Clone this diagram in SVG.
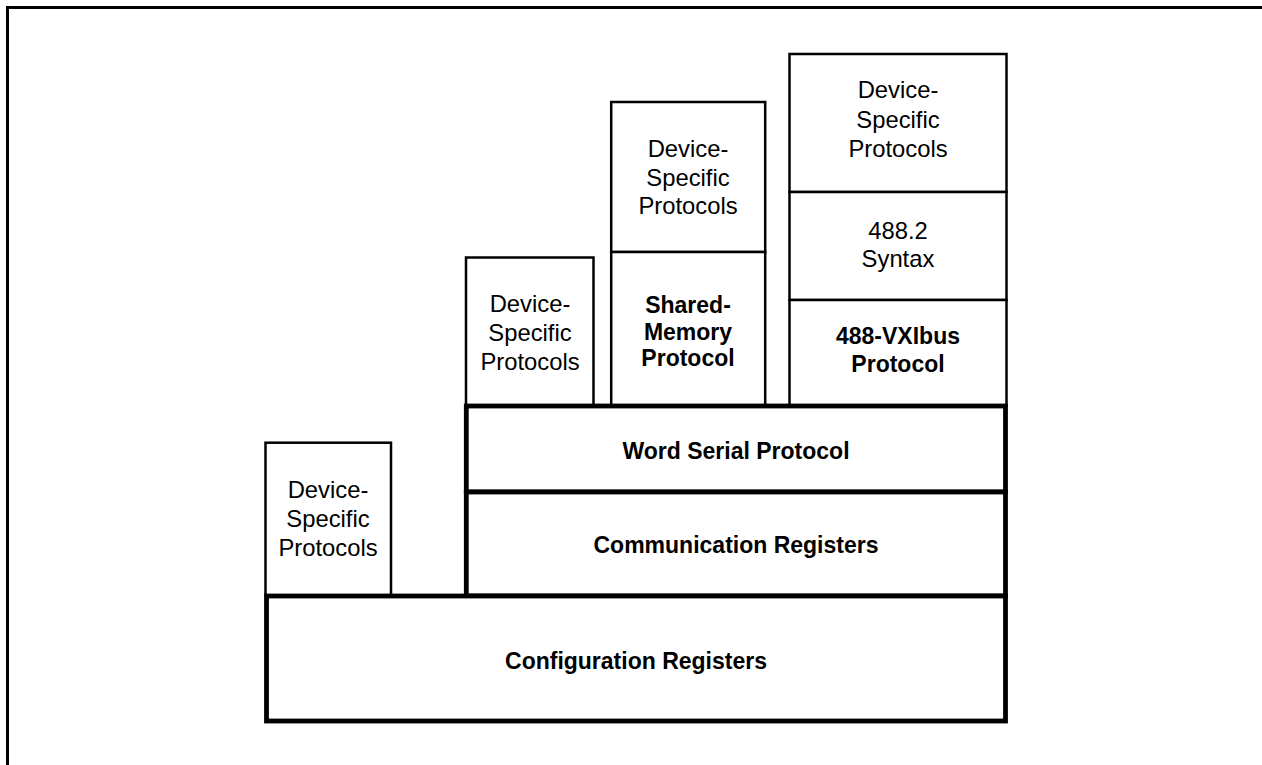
<svg xmlns="http://www.w3.org/2000/svg" width="1262" height="765" viewBox="0 0 1262 765">
<style>
.thin{fill:#fff;stroke:#000;stroke-width:2.5}
.thick{fill:#fff;stroke:#000;stroke-width:4.8}
text{font-family:"Liberation Sans",Arial,sans-serif;font-size:23.8px;fill:#000;text-anchor:middle}
.b{font-weight:bold;font-size:23px}
</style>
<rect width="1262" height="765" fill="#fff"/>
<path d="M7.5,765 V7.5 H1262" fill="none" stroke="#000" stroke-width="3"/>
<g id="dsp-left">
<rect class="thin" x="265.5" y="442.7" width="125.5" height="153.3"/>
<text x="328" y="498.3">Device-</text>
<text x="328" y="527">Specific</text>
<text x="328" y="555.5">Protocols</text>
</g>
<g id="dsp-ws">
<rect class="thin" x="466" y="257.5" width="127.5" height="148.5"/>
<text x="530" y="311.7">Device-</text>
<text x="530" y="340.7">Specific</text>
<text x="530" y="369.7">Protocols</text>
</g>
<g id="dsp-shared">
<rect class="thin" x="611.2" y="102" width="154" height="150"/>
<text x="688" y="156.7">Device-</text>
<text x="688" y="185.5">Specific</text>
<text x="688" y="214.3">Protocols</text>
</g>
<g id="shared-memory">
<rect class="thin" x="611.2" y="252" width="154" height="154"/>
<text class="b" x="688" y="313.3">Shared-</text>
<text class="b" x="688" y="339.7">Memory</text>
<text class="b" x="688" y="366">Protocol</text>
</g>
<g id="dsp-488">
<rect class="thin" x="789.5" y="54" width="217" height="138"/>
<text x="898" y="98.3">Device-</text>
<text x="898" y="127.5">Specific</text>
<text x="898" y="156.7">Protocols</text>
</g>
<g id="syntax-488">
<rect class="thin" x="789.5" y="192" width="217" height="108"/>
<text x="898" y="238.5">488.2</text>
<text x="898" y="267.3">Syntax</text>
</g>
<g id="vxibus-488">
<rect class="thin" x="789.5" y="300" width="217" height="106"/>
<text class="b" x="898" y="344.3">488-VXIbus</text>
<text class="b" x="898" y="371.7">Protocol</text>
</g>
<g id="word-serial">
<rect class="thick" x="466.3" y="406" width="539.2" height="86"/>
<text class="b" x="736" y="459">Word Serial Protocol</text>
</g>
<g id="comm-registers">
<rect class="thick" x="466.3" y="492" width="539.2" height="104"/>
<text class="b" x="736" y="553">Communication Registers</text>
</g>
<g id="config-registers">
<rect class="thick" x="266.5" y="596" width="739" height="125"/>
<text class="b" x="636" y="669">Configuration Registers</text>
</g>
<g id="connectors"></g>
</svg>
